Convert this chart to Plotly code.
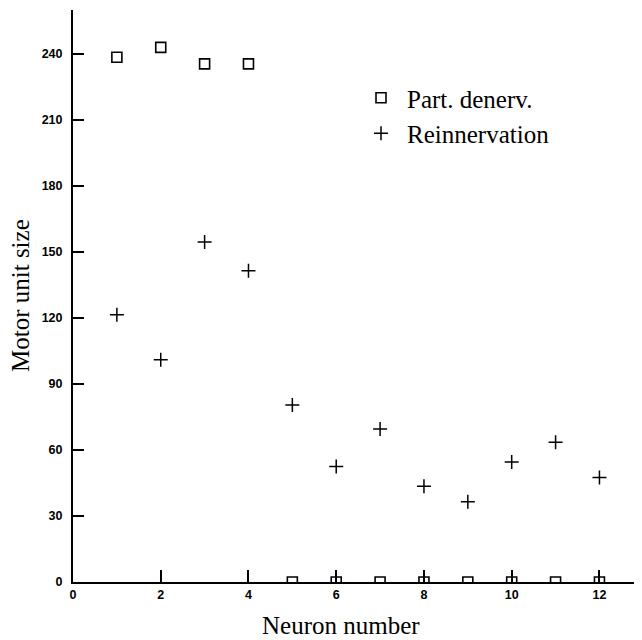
import plotly.graph_objects as go

neuron = [1, 2, 3, 4, 5, 6, 7, 8, 9, 10, 11, 12]
part_denerv = [238.5, 243, 235.5, 235.5, 0, 0, 0, 0, 0, 0, 0, 0]
reinnervation = [121.5, 101, 154.5, 141.5, 80.5, 52.5, 69.5, 43.5, 36.5, 54.5, 63.5, 47.5]
x_ticks = [0, 2, 4, 6, 8, 10, 12]
y_ticks = [0, 30, 60, 90, 120, 150, 180, 210, 240]

serif = "Liberation Serif, Times New Roman, serif"
sans = "Liberation Sans, Arial, sans-serif"

# page has an 8px body margin; figure coordinates compensate for it
W, H = 634, 632
L, T, B = 65, 2, 58
plot_w = W - L
plot_h = H - T - B

fig = go.Figure()
fig.add_trace(go.Scatter(
    x=neuron, y=part_denerv, mode="markers", name="Part. denerv.",
    marker=dict(symbol="square-open", size=10, color="black", line=dict(width=1.6)),
    cliponaxis=True,
))
fig.add_trace(go.Scatter(
    x=neuron, y=reinnervation, mode="markers", name="Reinnervation",
    marker=dict(symbol="cross-thin", size=10, color="black", line=dict(width=1.5, color="black")),
    cliponaxis=True,
))

fig.update_layout(
    width=W, height=H,
    margin=dict(l=L, r=0, t=T, b=B, autoexpand=False),
    paper_bgcolor="white", plot_bgcolor="white",
    showlegend=True,
    legend=dict(
        x=(347 - L) / plot_w, y=1 - (67 - T) / plot_h, xanchor="left", yanchor="top",
        font=dict(family=serif, size=25, color="black"),
        bgcolor="rgba(0,0,0,0)", tracegroupgap=0, itemwidth=42,
    ),
    font=dict(family=sans, color="black"),
)
fig.update_xaxes(
    range=[0, 12.97], tickvals=x_ticks, ticktext=[str(v) for v in x_ticks],
    ticks="inside", ticklen=12, tickwidth=2, tickcolor="black",
    showline=True, linewidth=2, linecolor="black",
    showgrid=False, zeroline=False,
    tickfont=dict(family=sans, size=12.5, color="black", weight="bold"),
    ticklabelstandoff=0,
)
fig.update_yaxes(
    range=[0, 260], tickvals=y_ticks, ticktext=[str(v) for v in y_ticks],
    ticks="inside", ticklen=11, tickwidth=2, tickcolor="black",
    showline=True, linewidth=2, linecolor="black",
    showgrid=False, zeroline=False,
    tickfont=dict(family=sans, size=12.5, color="black", weight="bold"),
    ticklabelstandoff=6,
)
fig.add_annotation(
    text="Neuron number", xref="paper", yref="paper", x=(333 - L) / plot_w, y=0,
    yshift=-28, xanchor="center", yanchor="top", showarrow=False,
    font=dict(family=serif, size=25, color="black"),
)
fig.add_annotation(
    text="Motor unit size", xref="paper", yref="paper", x=0, y=0.5,
    xshift=-53, xanchor="center", yanchor="middle", textangle=-90, showarrow=False,
    font=dict(family=serif, size=25, color="black"),
)

fig.write_html("out.html")
